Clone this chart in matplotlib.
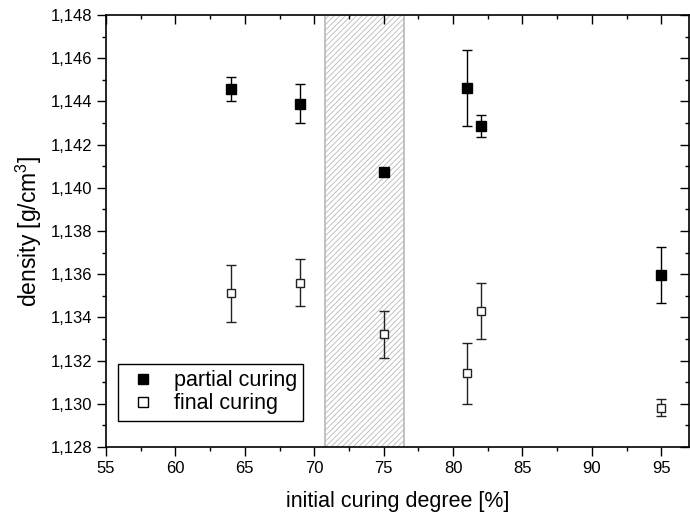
import matplotlib
matplotlib.use("Agg")
import matplotlib.pyplot as plt
from matplotlib.ticker import MultipleLocator, FuncFormatter
from matplotlib.patches import Rectangle
from matplotlib.lines import Line2D

plt.rcParams['font.family'] = ['Liberation Sans', 'DejaVu Sans']
plt.rcParams['mathtext.fontset'] = 'custom'
plt.rcParams['mathtext.rm'] = 'Liberation Sans'
plt.rcParams['mathtext.it'] = 'Liberation Sans'
plt.rcParams['hatch.color'] = '#a8a8a8'
plt.rcParams['hatch.linewidth'] = 0.6

# Data
x_partial = [64, 69, 75, 81, 82, 95]
y_partial = [1.14457, 1.14390, 1.14075, 1.14462, 1.14285, 1.13598]
err_partial = [0.00057, 0.00090, 0.0, 0.00174, 0.00050, 0.00130]

x_final = [64, 69, 75, 81, 82, 95]
y_final = [1.13511, 1.13561, 1.13322, 1.13141, 1.13430, 1.12982]
err_final = [0.00130, 0.00110, 0.00110, 0.00140, 0.00130, 0.00040]

series_labels = ['partial curing', 'final curing']
region = [70.8, 76.45]

fig = plt.figure(figsize=(6.9, 5.18), dpi=100)
ax = fig.add_axes([0.1536, 0.137, 0.9986 - 0.1536, 0.971 - 0.137])

ax.add_patch(Rectangle((region[0], 1.120), region[1] - region[0], 0.04,
                       facecolor='white', edgecolor='#b8b8b8', hatch='//////',
                       linewidth=1.2, zorder=1))

ax.errorbar(x_partial, y_partial, yerr=err_partial, fmt='s', color='black',
            markersize=7, capsize=3.5, elinewidth=1, capthick=1,
            markerfacecolor='black', markeredgecolor='black', zorder=3)
ax.errorbar(x_final, y_final, yerr=err_final, fmt='s', color='#222222',
            markersize=6, capsize=3.5, elinewidth=1, capthick=1,
            markerfacecolor='white', markeredgecolor='#222222', markeredgewidth=1,
            zorder=3)

ax.set_xlim(55, 97)
ax.set_ylim(1.128, 1.148)
ax.xaxis.set_major_locator(MultipleLocator(5))
ax.xaxis.set_minor_locator(MultipleLocator(2.5))
ax.yaxis.set_major_locator(MultipleLocator(0.002))
ax.yaxis.set_minor_locator(MultipleLocator(0.001))
ax.yaxis.set_major_formatter(FuncFormatter(lambda v, p: f"{v:.3f}".replace('.', ',')))

ax.tick_params(which='both', direction='out', top=True, right=True,
               labelsize=12, width=1)
ax.tick_params(which='major', length=6.5)
ax.tick_params(which='minor', length=3.2)
for s in ax.spines.values():
    s.set_linewidth(1.2)

# top/right ticks inward
for t in ax.xaxis.get_major_ticks() + ax.xaxis.get_minor_ticks():
    t.tick2line.set_marker(3)
for t in ax.yaxis.get_major_ticks() + ax.yaxis.get_minor_ticks():
    t.tick2line.set_marker(0)

ax.set_xlabel('initial curing degree [%]', fontsize=15.5, labelpad=11)
ax.set_ylabel('density [g/cm$^3$]', fontsize=16.5, labelpad=5)

handles = [
    Line2D([], [], linestyle='none', marker='s', markersize=6.5,
           markerfacecolor='black', markeredgecolor='black'),
    Line2D([], [], linestyle='none', marker='s', markersize=6.5,
           markerfacecolor='white', markeredgecolor='black', markeredgewidth=1),
]
leg = ax.legend(handles, series_labels,
                loc='lower left', bbox_to_anchor=(0.02, 0.061), borderaxespad=0,
                fontsize=15.5, frameon=True, fancybox=False, edgecolor='black',
                handletextpad=0.5, labelspacing=0.1, borderpad=0.3,
                handlelength=1.8)
leg.get_frame().set_linewidth(1)
leg.get_frame().set_alpha(1)

fig.savefig('out.png', dpi=100)
